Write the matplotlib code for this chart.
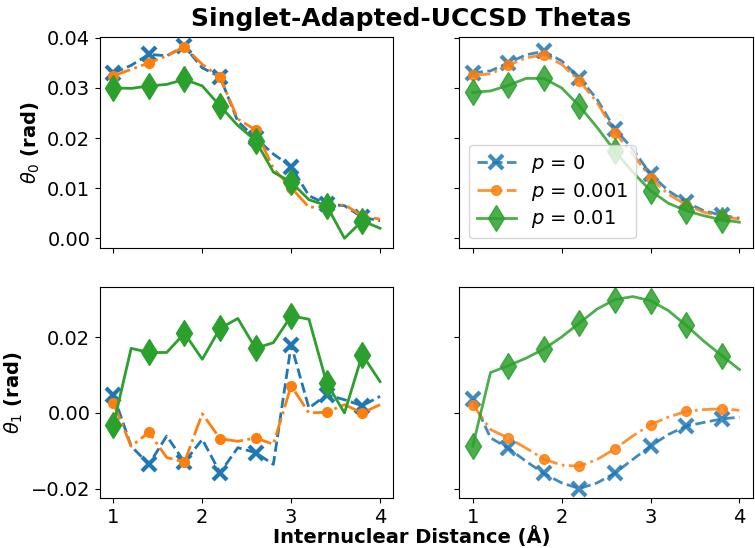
import numpy as np
import matplotlib
matplotlib.use("Agg")
import matplotlib.pyplot as plt

# Bond lengths (Angstrom)
dist = np.round(np.arange(1.0, 4.01, 0.2), 1)

# theta_0, raw optimiser output
t0_raw_p0 = [0.0330, 0.0345, 0.0367, 0.0364, 0.0383, 0.0340, 0.0322, 0.0233,
             0.0200, 0.0168, 0.0143, 0.0085, 0.0068, 0.0065, 0.0042, 0.0035]
t0_raw_p1 = [0.0324, 0.0337, 0.0350, 0.0364, 0.0382, 0.0347, 0.0321, 0.0238,
             0.0216, 0.0139, 0.0101, 0.0062, 0.0063, 0.0067, 0.0045, 0.0038]
t0_raw_p2 = [0.0300, 0.0299, 0.0304, 0.0307, 0.0317, 0.0304, 0.0264, 0.0225,
             0.0195, 0.0132, 0.0112, 0.0077, 0.0065, 0.0000, 0.0035, 0.0020]

# theta_0, smoothed
t0_fit_p0 = [0.0330, 0.0334, 0.0350, 0.0366, 0.0373, 0.0354, 0.0320, 0.0277,
             0.0218, 0.0178, 0.0128, 0.0095, 0.0072, 0.0055, 0.0046, 0.0040]
t0_fit_p1 = [0.0325, 0.0328, 0.0345, 0.0360, 0.0366, 0.0347, 0.0314, 0.0271,
             0.0211, 0.0168, 0.0121, 0.0088, 0.0067, 0.0052, 0.0044, 0.0038]
t0_fit_p2 = [0.0291, 0.0294, 0.0305, 0.0319, 0.0319, 0.0300, 0.0264, 0.0221,
             0.0174, 0.0132, 0.0095, 0.0070, 0.0055, 0.0045, 0.0037, 0.0032]

# theta_1, raw optimiser output
t1_raw_p0 = [0.0048, -0.0088, -0.0136, -0.0061, -0.0130, -0.0070, -0.0158, -0.0092,
             -0.0105, -0.0136, 0.0180, 0.0013, 0.0048, 0.0035, 0.0019, 0.0044]
t1_raw_p1 = [0.0026, -0.0088, -0.0051, -0.0118, -0.0130, -0.0002, -0.0068, -0.0075,
             -0.0066, -0.0083, 0.0072, 0.0000, 0.0002, 0.0022, 0.0000, 0.0022]
t1_raw_p2 = [-0.0032, 0.0171, 0.0160, 0.0160, 0.0211, 0.0142, 0.0224, 0.0250,
             0.0171, 0.0186, 0.0257, 0.0248, 0.0079, 0.0000, 0.0154, 0.0083]

# theta_1, smoothed
t1_fit_p0 = [0.0037, -0.0066, -0.0093, -0.0128, -0.0160, -0.0185, -0.0200, -0.0185,
             -0.0159, -0.0123, -0.0088, -0.0057, -0.0035, -0.0025, -0.0016, -0.0011]
t1_fit_p1 = [0.0022, -0.0044, -0.0066, -0.0093, -0.0122, -0.0138, -0.0141, -0.0123,
             -0.0095, -0.0061, -0.0031, -0.0011, 0.0004, 0.0009, 0.0011, 0.0007]
t1_fit_p2 = [-0.0088, 0.0107, 0.0125, 0.0145, 0.0169, 0.0201, 0.0238, 0.0275,
             0.0300, 0.0308, 0.0297, 0.0271, 0.0232, 0.0190, 0.0152, 0.0115]

labels = ["$p$ = 0", "$p$ = 0.001", "$p$ = 0.01"]
styles = [dict(color="tab:blue", ls="--", marker="x", ms=10, mew=3),
          dict(color="tab:orange", ls="-.", marker="o", ms=7),
          dict(color="tab:green", ls="-", marker="d", ms=13)]

panels = [[(t0_raw_p0, t0_raw_p1, t0_raw_p2), (t0_fit_p0, t0_fit_p1, t0_fit_p2)],
          [(t1_raw_p0, t1_raw_p1, t1_raw_p2), (t1_fit_p0, t1_fit_p1, t1_fit_p2)]]

plt.rcParams["font.size"] = 14

fig, axes = plt.subplots(2, 2, figsize=(7.55, 5.48), dpi=100,
                         sharex=True, sharey="row")
fig.subplots_adjust(left=0.1325, right=0.997, top=0.933, bottom=0.091,
                    wspace=0.225, hspace=0.185)

for i in range(2):
    for j in range(2):
        ax = axes[i, j]
        alpha = 1.0 if j == 0 else 0.85
        for series, lab, st in zip(panels[i][j], labels, styles):
            ax.plot(dist, series, lw=2, markevery=2, alpha=alpha,
                    label=lab, **st)
        ax.set_xticks([1, 2, 3, 4])

axes[0, 0].set_ylabel(r"$\theta_0$ (rad)", fontweight="bold")
axes[1, 0].set_ylabel(r"$\theta_1$ (rad)", fontweight="bold")
axes[0, 1].legend(loc="lower left", fontsize=14, labelspacing=0.3)

fig.suptitle("Singlet-Adapted-UCCSD Thetas", x=0.545, y=0.987,
             fontsize=18, fontweight="bold")
fig.text(0.545, 0.021, "Internuclear Distance (Å)", ha="center", va="center",
         fontsize=14, fontweight="bold")

fig.savefig("out.png", dpi=100)
